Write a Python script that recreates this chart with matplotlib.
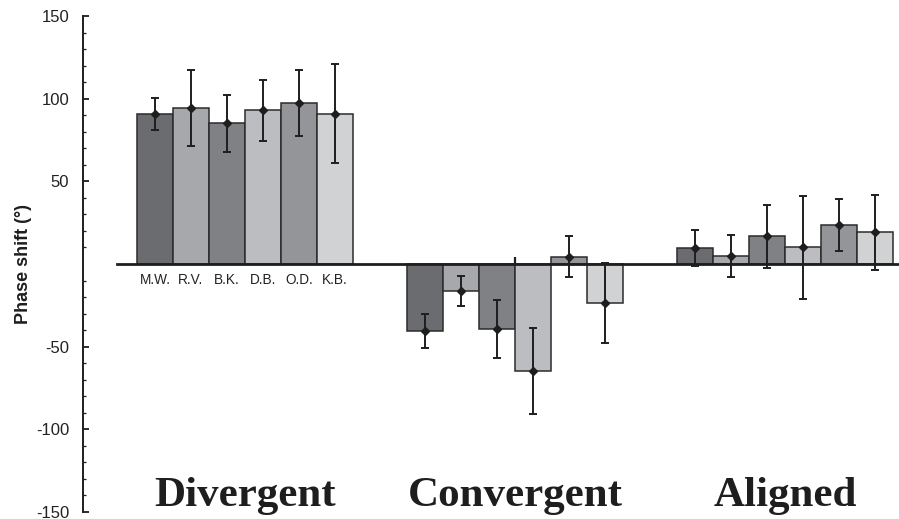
import matplotlib
matplotlib.use("Agg")
import matplotlib.pyplot as plt
from matplotlib.ticker import FixedLocator
import numpy as np

plt.rcParams["axes.unicode_minus"] = False

# ---- data ----
conditions = ["Divergent", "Convergent", "Aligned"]
subjects = ["M.W.", "R.V.", "B.K.", "D.B.", "O.D.", "K.B."]
divergent_mean = [90.5, 94.5, 85.0, 93.0, 97.3, 91.0]
divergent_err = [9.7, 23.0, 17.0, 18.5, 20.0, 30.0]
convergent_mean = [-40.5, -16.5, -39.5, -64.5, 4.5, -23.5]
convergent_err = [10.5, 9.0, 17.5, 26.0, 12.2, 24.0]
aligned_mean = [9.5, 4.6, 16.8, 10.0, 23.6, 19.2]
aligned_err = [11.0, 12.7, 19.0, 31.0, 15.6, 22.6]
subject_colors = ["#6b6c70", "#a7a8ab", "#808185", "#bcbdc0", "#939598", "#d1d2d4"]

means = [divergent_mean, convergent_mean, aligned_mean]
errs = [divergent_err, convergent_err, aligned_err]

fig = plt.figure(figsize=(8.99, 5.19), dpi=100)
ax = fig.add_axes([83/899, 7/519, (899-83)/899, 496/519])

group_step = 7.5
bar_w = 1.0
for g, (m, e) in enumerate(zip(means, errs)):
    xs = g*group_step + np.arange(len(subjects)) + 0.5
    ax.bar(xs, m, width=bar_w, color=subject_colors, edgecolor="#2b2b2b",
           linewidth=1.1, zorder=2)
    ax.errorbar(xs, m, yerr=e, fmt="D", color="#1e1e1e", ecolor="#1e1e1e",
                elinewidth=1.4, capsize=2.8, capthick=1.4, markersize=4.5, zorder=4)
    if g == 0:
        for x, s in zip(xs, subjects):
            ax.annotate(s, (x, 0), xytext=(0, -6.5), textcoords="offset points",
                        ha="center", va="top", fontsize=9.8, color="#222222",
                        family="Liberation Sans")
    ax.text(g*group_step + 3, -146.6, conditions[g], ha="center", va="baseline",
            fontsize=31, fontweight="bold", family="Liberation Serif", color="#1e1e1e")

ax.set_xlim(-1.5, 21.17)
ax.set_ylim(-150, 150)

for s in ["top", "right"]:
    ax.spines[s].set_visible(False)
ax.spines["left"].set_linewidth(1.4)
ax.spines["left"].set_color("#1e1e1e")
ax.spines["bottom"].set_position(("data", 0))
ax.spines["bottom"].set_bounds(-0.55, 21.17)
ax.spines["bottom"].set_linewidth(2.0)
ax.spines["bottom"].set_color("#1e1e1e")
ax.spines["bottom"].set_zorder(3)

ax.yaxis.set_major_locator(FixedLocator([-150, -100, -50, 50, 100, 150]))
ax.yaxis.set_minor_locator(FixedLocator([v for v in range(-140, 150, 10) if v % 50 != 0]))
ax.tick_params(axis="y", which="major", direction="in", length=4, width=1.3,
               labelsize=12, pad=10, colors="#1e1e1e")
ax.tick_params(axis="y", which="minor", direction="in", length=2.5, width=0.9, colors="#1e1e1e")
for lab in ax.get_yticklabels():
    lab.set_family("Liberation Sans")
    lab.set_color("#222222")

ax.xaxis.set_major_locator(FixedLocator([g*group_step + 3 for g in range(3)]))
ax.tick_params(axis="x", which="major", direction="in", length=5, width=1.6,
               labelbottom=False, colors="#1e1e1e")

ax.set_ylabel("Phase shift (°)", fontsize=13, fontweight="bold",
              family="Liberation Sans", color="#1e1e1e")
ax.yaxis.set_label_coords(-0.062, 0.5)

fig.savefig("out.png", dpi=100)
